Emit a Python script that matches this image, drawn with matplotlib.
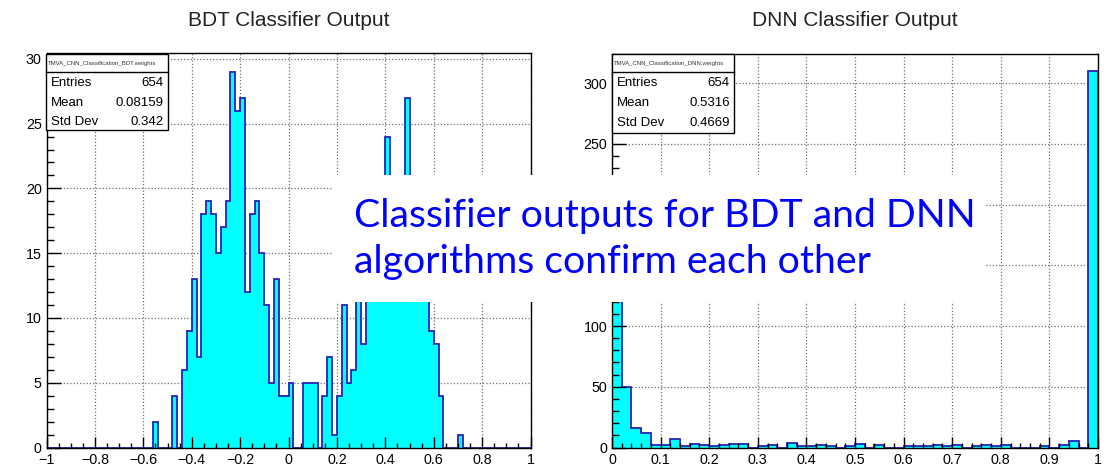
import numpy as np
import matplotlib
matplotlib.use('Agg')
import matplotlib.pyplot as plt
from matplotlib.patches import Rectangle
from matplotlib.lines import Line2D
from matplotlib.ticker import MultipleLocator

# ---------------- data ----------------
bdt_title = "BDT Classifier Output"
dnn_title = "DNN Classifier Output"
bdt_range = (-1.0, 1.0)
dnn_range = (0.0, 1.0)
# 100 bins of width 0.02 from -1 to 1
bdt_counts = [0] * 22 + [
    2, 0, 0, 0, 4, 0, 6, 9, 13, 7,          # -0.56 .. -0.38
    18, 19, 18, 15, 17, 19, 29, 26, 27, 12,  # -0.36 .. -0.18
    18, 19, 15, 11, 5, 13, 4, 4,             # -0.16 .. -0.02
    5, 0, 0, 5, 5, 5, 0, 4, 7, 1,            # 0.00 .. 0.18
    4, 11, 5, 6, 13, 8, 14, 17, 15, 19,      # 0.20 .. 0.38
    24, 16, 18, 13, 27, 17, 16, 15, 12, 9,   # 0.40 .. 0.58
    8, 4, 0, 0, 0, 1] + [0] * 14             # 0.60 .. 0.98
# 50 bins of width 0.02 from 0 to 1
dnn_counts = [200, 50, 16, 12, 2, 2, 7, 1, 3, 2,
              1, 2, 3, 3, 0, 1, 2, 0, 4, 1,
              1, 2, 1, 0, 1, 3, 0, 2, 0, 0,
              1, 1, 1, 2, 1, 2, 0, 1, 2, 1,
              2, 0, 0, 0, 1, 0, 2, 5, 0, 310]
bdt_xticks = [-1, -0.8, -0.6, -0.4, -0.2, 0, 0.2, 0.4, 0.6, 0.8, 1]
bdt_xlabels = ['\u22121', '\u22120.8', '\u22120.6', '\u22120.4', '\u22120.2', '0',
               '0.2', '0.4', '0.6', '0.8', '1']
bdt_yticks = [0, 5, 10, 15, 20, 25, 30]
bdt_ylabels = ['0', '5', '10', '15', '20', '25', '30']
dnn_xticks = [0, 0.1, 0.2, 0.3, 0.4, 0.5, 0.6, 0.7, 0.8, 0.9, 1]
dnn_xlabels = ['0', '0.1', '0.2', '0.3', '0.4', '0.5', '0.6', '0.7', '0.8', '0.9', '1']
dnn_yticks = [0, 50, 100, 150, 200, 250, 300]
# 150 and 200 are hidden behind the annotation box in the reference
dnn_ylabels = ['0', '50', '100', '', '', '250', '300']
bdt_stats_name = "TMVA_CNN_Classification_BDT.weights"
dnn_stats_name = "TMVA_CNN_Classification_DNN.weights"
bdt_stats = [("Entries", "654"), ("Mean", "0.08159"), ("Std Dev", "0.342")]
dnn_stats = [("Entries", "654"), ("Mean", "0.5316"), ("Std Dev", "0.4669")]
overlay_lines = ["Classifier outputs for BDT and DNN", "algorithms confirm each other"]

# ---------------- figure ----------------
W, H = 1108, 465
plt.rcParams['font.family'] = ['Liberation Sans', 'DejaVu Sans']
fig = plt.figure(figsize=(W / 100, H / 100), dpi=100)
fig.patch.set_facecolor('white')


def fx(x):
    return x / W


def fy(y):
    return 1 - y / H


FILL = '#00ffff'
EDGE = '#2424b8'
GRID = '#707070'


def draw_hist(ax, counts, rng, ymax, xticks, xlabels, xminor, yticks, ylabels,
              yminor, ytick_len):
    edges = np.linspace(rng[0], rng[1], len(counts) + 1)
    ax.set_xlim(rng)
    ax.set_ylim(0, ymax)
    ax.set_axisbelow(False)
    ax.set_xticks(xticks)
    ax.set_xticklabels(xlabels)
    ax.set_yticks(yticks)
    ax.set_yticklabels(ylabels)
    ax.xaxis.set_minor_locator(MultipleLocator(xminor))
    ax.yaxis.set_minor_locator(MultipleLocator(yminor))
    # grid drawn manually below the histogram
    for v in xticks:
        ax.axvline(v, color=GRID, lw=0.9, ls=(0, (1, 1.6)), zorder=0.5)
    for v in yticks:
        ax.axhline(v, color=GRID, lw=0.9, ls=(0, (1, 1.6)), zorder=0.5)
    ax.stairs(counts, edges, fill=True, color=FILL, zorder=1)
    ax.stairs(counts, edges, color=EDGE, lw=1.3, zorder=1.2)
    ax.tick_params(which='both', direction='in', top=False, right=False,
                   labelsize=10.3, colors='black', width=1)
    ax.tick_params(axis='x', which='major', length=7.7, pad=4)
    ax.tick_params(axis='x', which='minor', length=3.9)
    ax.tick_params(axis='y', which='major', length=ytick_len, pad=3.5)
    ax.tick_params(axis='y', which='minor', length=ytick_len / 2)
    for s in ax.spines.values():
        s.set_linewidth(1.0)
        s.set_color('black')
        s.set_zorder(3)


axL = fig.add_axes([fx(46.5), fy(447.5), (530.5 - 46.5) / W, (447.5 - 53) / H])
draw_hist(axL, bdt_counts, bdt_range, 30.45, bdt_xticks, bdt_xlabels, 0.05,
          bdt_yticks, bdt_ylabels, 1, 10)
axR = fig.add_axes([fx(612), fy(447.5), (1098 - 612) / W, (447.5 - 54) / H])
draw_hist(axR, dnn_counts, dnn_range, 324, dnn_xticks, dnn_xlabels, 0.02,
          dnn_yticks, dnn_ylabels, 10, 10)

fig.text(fx(288.5), fy(20), bdt_title, ha='center', va='center', fontsize=15,
         color='#222222')
fig.text(fx(855), fy(20), dnn_title, ha='center', va='center', fontsize=15,
         color='#222222')


def stats_box(x0, x1, y0, y1, ysep, name, rows, rowys):
    fig.patches.append(Rectangle((fx(x0), fy(y1)), fx(x1 - x0), (y1 - y0) / H,
                                 transform=fig.transFigure, facecolor='white',
                                 edgecolor='black', lw=1.0, zorder=5))
    fig.lines.append(Line2D([fx(x0), fx(x1)], [fy(ysep), fy(ysep)],
                            transform=fig.transFigure, color='black', lw=1.0, zorder=6))
    t = fig.text(fx(x0 + 2), fy((y0 + ysep) / 2), name, ha='left', va='center',
                 fontsize=4.3, color='#333333', zorder=7)
    clip = Rectangle((fx(x0), fy(ysep)), fx(x1 - x0 - 1), (ysep - y0) / H,
                     transform=fig.transFigure, visible=False)
    fig.patches.append(clip)
    t.set_clip_path(clip)
    for (lab, val), yy in zip(rows, rowys):
        fig.text(fx(x0 + 5), fy(yy), lab, ha='left', va='center', fontsize=9.5, zorder=7)
        fig.text(fx(x1 - 4), fy(yy), val, ha='right', va='center', fontsize=9.5, zorder=7)


stats_box(45.7, 167.7, 54, 130, 72.3, bdt_stats_name, bdt_stats, [83.5, 102.7, 121.7])
stats_box(611.7, 734, 54, 132.7, 72.3, dnn_stats_name, dnn_stats, [83.5, 103.3, 122.7])

# overlay annotation box
fig.patches.append(Rectangle((fx(333), fy(302)), fx(985 - 333), (302 - 175) / H,
                             transform=fig.transFigure, facecolor='white',
                             edgecolor='none', zorder=10))
t1 = fig.text(fx(354), fy(226.7), overlay_lines[0], ha='left', va='baseline',
              fontsize=28, color='#0000ff', family=['Lato', 'DejaVu Sans'], zorder=11)
t2 = fig.text(fx(354), fy(273.3), overlay_lines[1], ha='left', va='baseline',
              fontsize=28, color='#0000ff', family=['Lato', 'DejaVu Sans'], zorder=11)
fig.canvas.draw()
w = t1.get_window_extent().width
scale = (975 - 354) / w
for t in (t1, t2):
    t.set_fontsize(28 * scale)

fig.savefig('out.png', dpi=100)
